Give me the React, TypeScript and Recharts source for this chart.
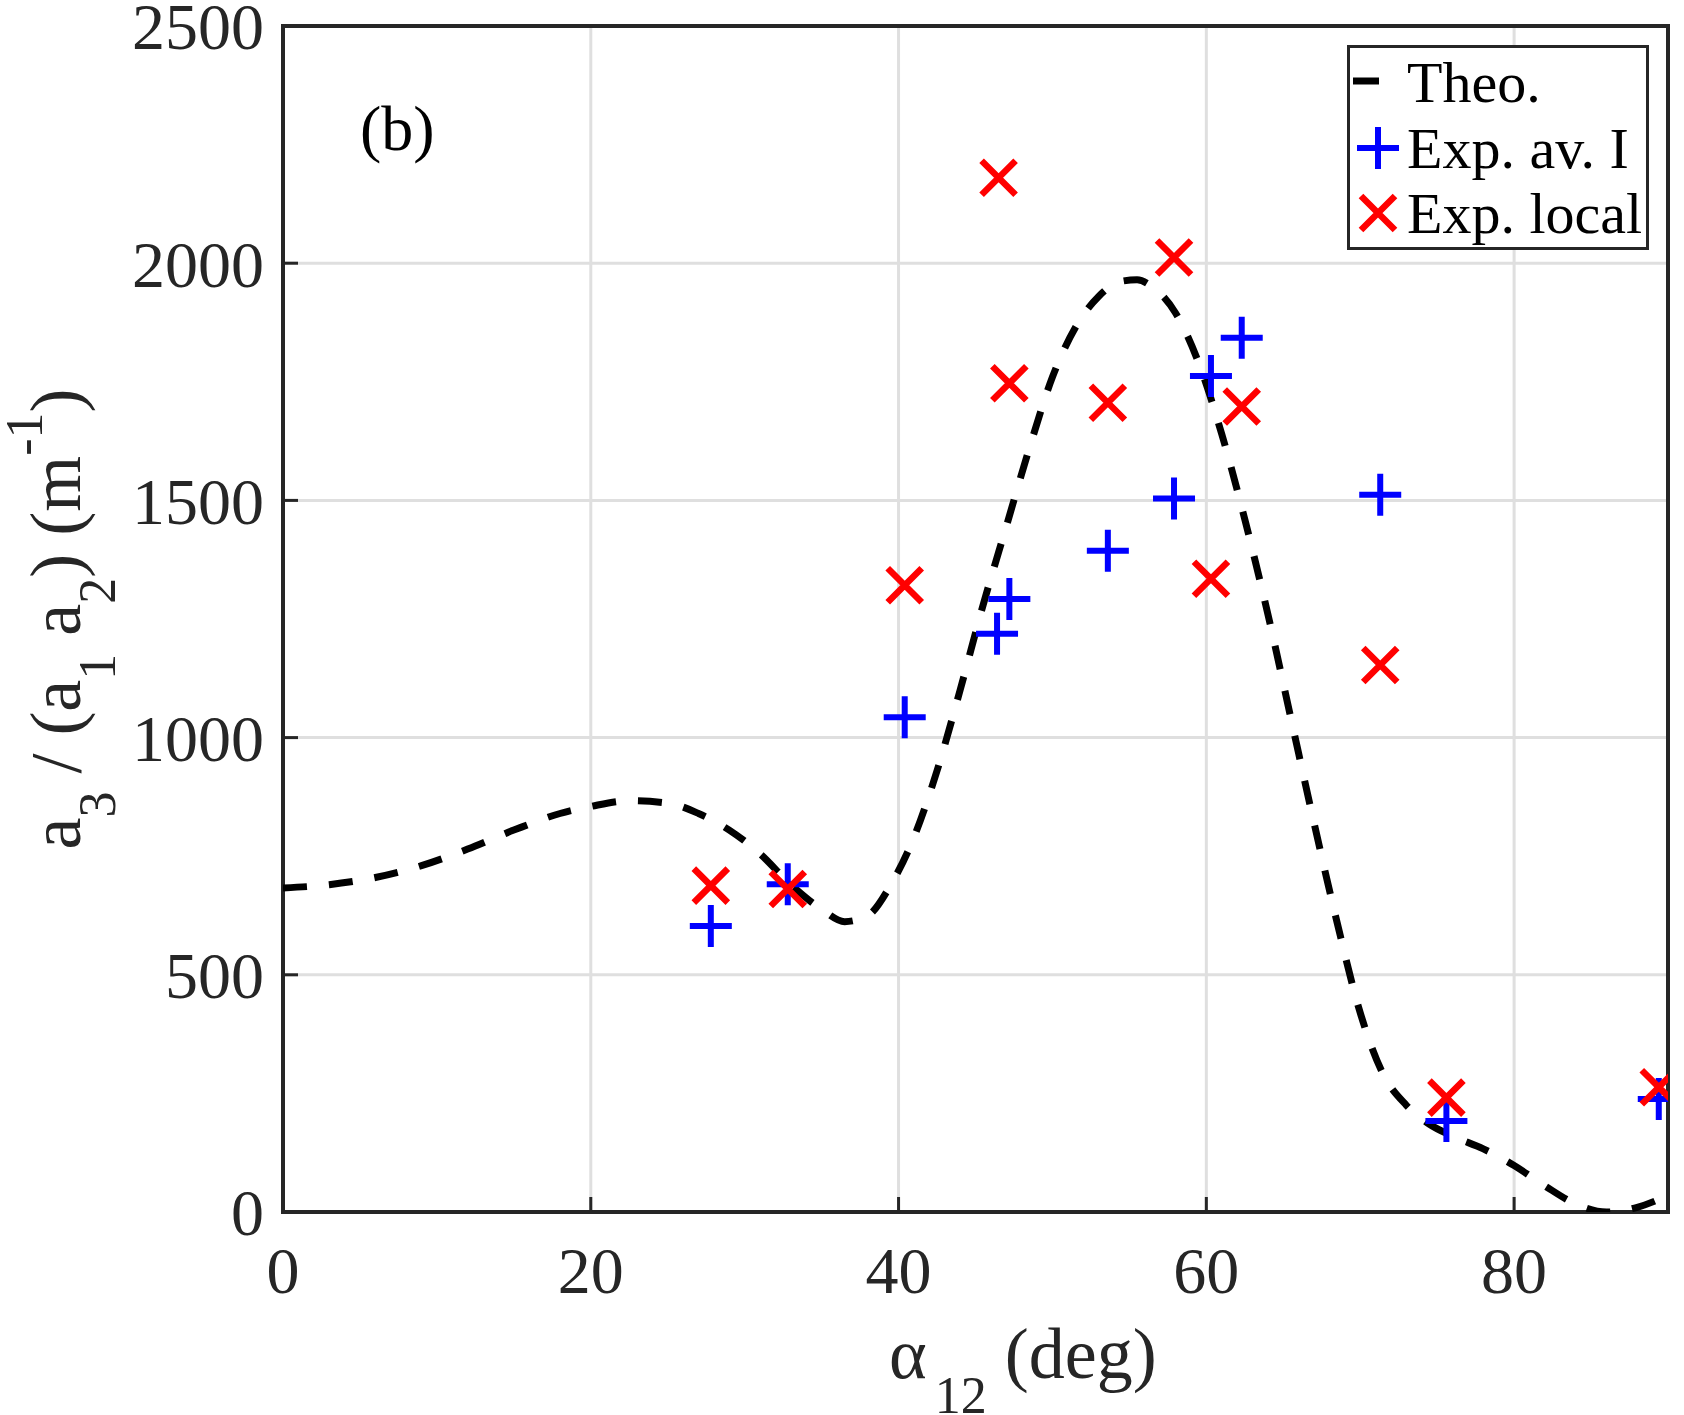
import React from "react";
import {
  CartesianGrid,
  ComposedChart,
  Line,
  ReferenceArea,
  Scatter,
  XAxis,
  YAxis,
} from "recharts";

const W = 1684;
const H = 1415;
const FONT = '"Liberation Serif", "Times New Roman", serif';
const INK = "#262626";

// axis ticks
const xTicks = [0, 20, 40, 60, 80];
const yTicks = [0, 500, 1000, 1500, 2000, 2500];

// theoretical curve
const theoAngle = [
  0, 3, 6, 9, 12, 15, 18, 20, 22.5, 25, 27, 29, 31, 33, 35, 36.5, 38, 39.5,
  41, 42.5, 44, 45.5, 47, 48.5, 50, 51.5, 53, 54.5, 55.5, 56.5, 58, 59.5, 61,
  62.5, 64, 65.5, 67, 68.5, 70, 71.5, 73, 74.5, 76, 78, 80, 82, 84, 86, 88, 90,
];
const theoValue = [
  683, 690, 705, 730, 765, 805, 840, 855, 867, 862, 840, 805, 755, 690, 638,
  612, 625, 690, 790, 930, 1100, 1280, 1445, 1610, 1760, 1865, 1930, 1962,
  1965, 1950, 1895, 1790, 1640, 1460, 1260, 1040, 820, 610, 420, 290, 225, 185,
  160, 133, 98, 55, 17, 0, 10, 35,
];

// experimental, averaged over I
const avAngle = [27.8, 32.8, 40.4, 46.4, 47.2, 53.6, 57.9, 60.3, 62.3, 71.3, 75.6, 89.4];
const avValue = [603, 691, 1043, 1219, 1292, 1394, 1504, 1762, 1843, 1512, 192, 238];

// experimental, local
const localAngle = [27.8, 32.8, 40.4, 46.5, 47.2, 53.6, 57.9, 60.3, 62.3, 71.3, 75.6, 89.4];
const localValue = [688, 681, 1321, 2180, 1747, 1706, 2012, 1335, 1698, 1153, 241, 263];

const theoData = theoAngle.map((x, i) => ({ x, y: theoValue[i] }));
const avData = avAngle.map((x, i) => ({ x, y: avValue[i] }));
const localData = localAngle.map((x, i) => ({ x, y: localValue[i] }));

function PlusMark({ cx, cy, r = 21 }: { cx: number; cy: number; r?: number }) {
  return (
    <path
      d={`M${cx - r},${cy}H${cx + r}M${cx},${cy - r}V${cy + r}`}
      stroke="#0000ff"
      strokeWidth={6}
      fill="none"
    />
  );
}

function CrossMark({ cx, cy, r = 17 }: { cx: number; cy: number; r?: number }) {
  return (
    <path
      d={`M${cx - r},${cy - r}L${cx + r},${cy + r}M${cx - r},${cy + r}L${cx + r},${cy - r}`}
      stroke="#ff0000"
      strokeWidth={6.5}
      fill="none"
    />
  );
}

const tickStyle = { fontFamily: FONT, fontSize: 66, fill: INK };

function Legend() {
  return (
    <div
      style={{
        position: "absolute",
        left: 1347,
        top: 45,
        width: 302,
        height: 205,
        boxSizing: "border-box",
        border: `3.5px solid ${INK}`,
        background: "#fff",
      }}
    >
      <svg width={295} height={198} style={{ display: "block" }}>
        <line x1={3} y1={33} x2={29} y2={33} stroke="#000" strokeWidth={7} />
        <PlusMark cx={28} cy={100} />
        <CrossMark cx={28} cy={165} />
        <g fontFamily={FONT} fontSize={58} fill="#000">
          <text x={57} y={54}>Theo.</text>
          <text x={57} y={120}>Exp. av. I</text>
          <text x={57} y={185}>Exp. local</text>
        </g>
      </svg>
    </div>
  );
}

function Labels() {
  return (
    <svg
      width={W}
      height={H}
      style={{ position: "absolute", left: 0, top: 0, pointerEvents: "none" }}
    >
      <g fontFamily={FONT} fill={INK}>
        <text x={360} y={150} fontSize={64} fill="#000">(b)</text>
        <text x={889} y={1378} fontSize={72}>
          α
          <tspan dx={8} dy={35} fontSize={52}>12</tspan>
          <tspan dy={-35}> (deg)</tspan>
        </text>
        <text
          x={80}
          y={619}
          fontSize={72}
          textAnchor="middle"
          transform="rotate(-90 80 619)"
        >
          a<tspan dy={35} fontSize={52}>3</tspan>
          <tspan dy={-35}> / (a</tspan>
          <tspan dy={35} fontSize={52}>1</tspan>
          <tspan dy={-35}> a</tspan>
          <tspan dy={35} fontSize={52}>2</tspan>
          <tspan dy={-35}>) (m</tspan>
          <tspan dy={-38} fontSize={52}>-1</tspan>
          <tspan dy={38}>)</tspan>
        </text>
      </g>
    </svg>
  );
}

export default function App() {
  return (
    <div
      style={{
        position: "absolute",
        left: 0,
        top: 0,
        width: W,
        height: H,
        background: "#fff",
      }}
    >
      <ComposedChart
        width={W}
        height={H}
        data={theoData}
        margin={{ top: 26, right: 16, bottom: 0, left: 0 }}
      >
        <CartesianGrid stroke="#dfdfdf" strokeWidth={3} />
        <XAxis
          dataKey="x"
          type="number"
          domain={[0, 90]}
          ticks={xTicks}
          interval={0}
          allowDataOverflow
          height={203}
          axisLine={false}
          tickSize={-15}
          tickMargin={49}
          tickLine={{ stroke: INK, strokeWidth: 3 }}
          tick={tickStyle}
        />
        <XAxis
          xAxisId="top"
          orientation="top"
          type="number"
          domain={[0, 90]}
          ticks={xTicks}
          interval={0}
          allowDataOverflow
          height={0}
          axisLine={false}
          tickSize={-15}
          tickLine={{ stroke: INK, strokeWidth: 3 }}
          tick={false}
        />
        <YAxis
          type="number"
          domain={[0, 2500]}
          ticks={yTicks}
          interval={0}
          allowDataOverflow
          width={283}
          axisLine={false}
          tickSize={-15}
          tickMargin={34}
          tickLine={{ stroke: INK, strokeWidth: 3 }}
          tick={tickStyle}
        />
        <YAxis
          yAxisId="right"
          orientation="right"
          type="number"
          domain={[0, 2500]}
          ticks={yTicks}
          interval={0}
          allowDataOverflow
          width={0}
          axisLine={false}
          tickSize={-15}
          tickLine={{ stroke: INK, strokeWidth: 3 }}
          tick={false}
        />
        <Line
          dataKey="y"
          type="monotone"
          stroke="#000"
          strokeWidth={7}
          strokeDasharray="24 22"
          dot={false}
          activeDot={false}
          isAnimationActive={false}
        />
        <Scatter
          data={avData}
          dataKey="y"
          isAnimationActive={false}
          shape={(p: any) => <PlusMark cx={p.cx} cy={p.cy} />}
        />
        <Scatter
          data={localData}
          dataKey="y"
          isAnimationActive={false}
          shape={(p: any) => <CrossMark cx={p.cx} cy={p.cy} />}
        />
        <ReferenceArea
          x1={0}
          x2={90}
          y1={0}
          y2={2500}
          fill="none"
          stroke={INK}
          strokeWidth={4}
          ifOverflow="visible"
        />
      </ComposedChart>
      <Legend />
      <Labels />
    </div>
  );
}
